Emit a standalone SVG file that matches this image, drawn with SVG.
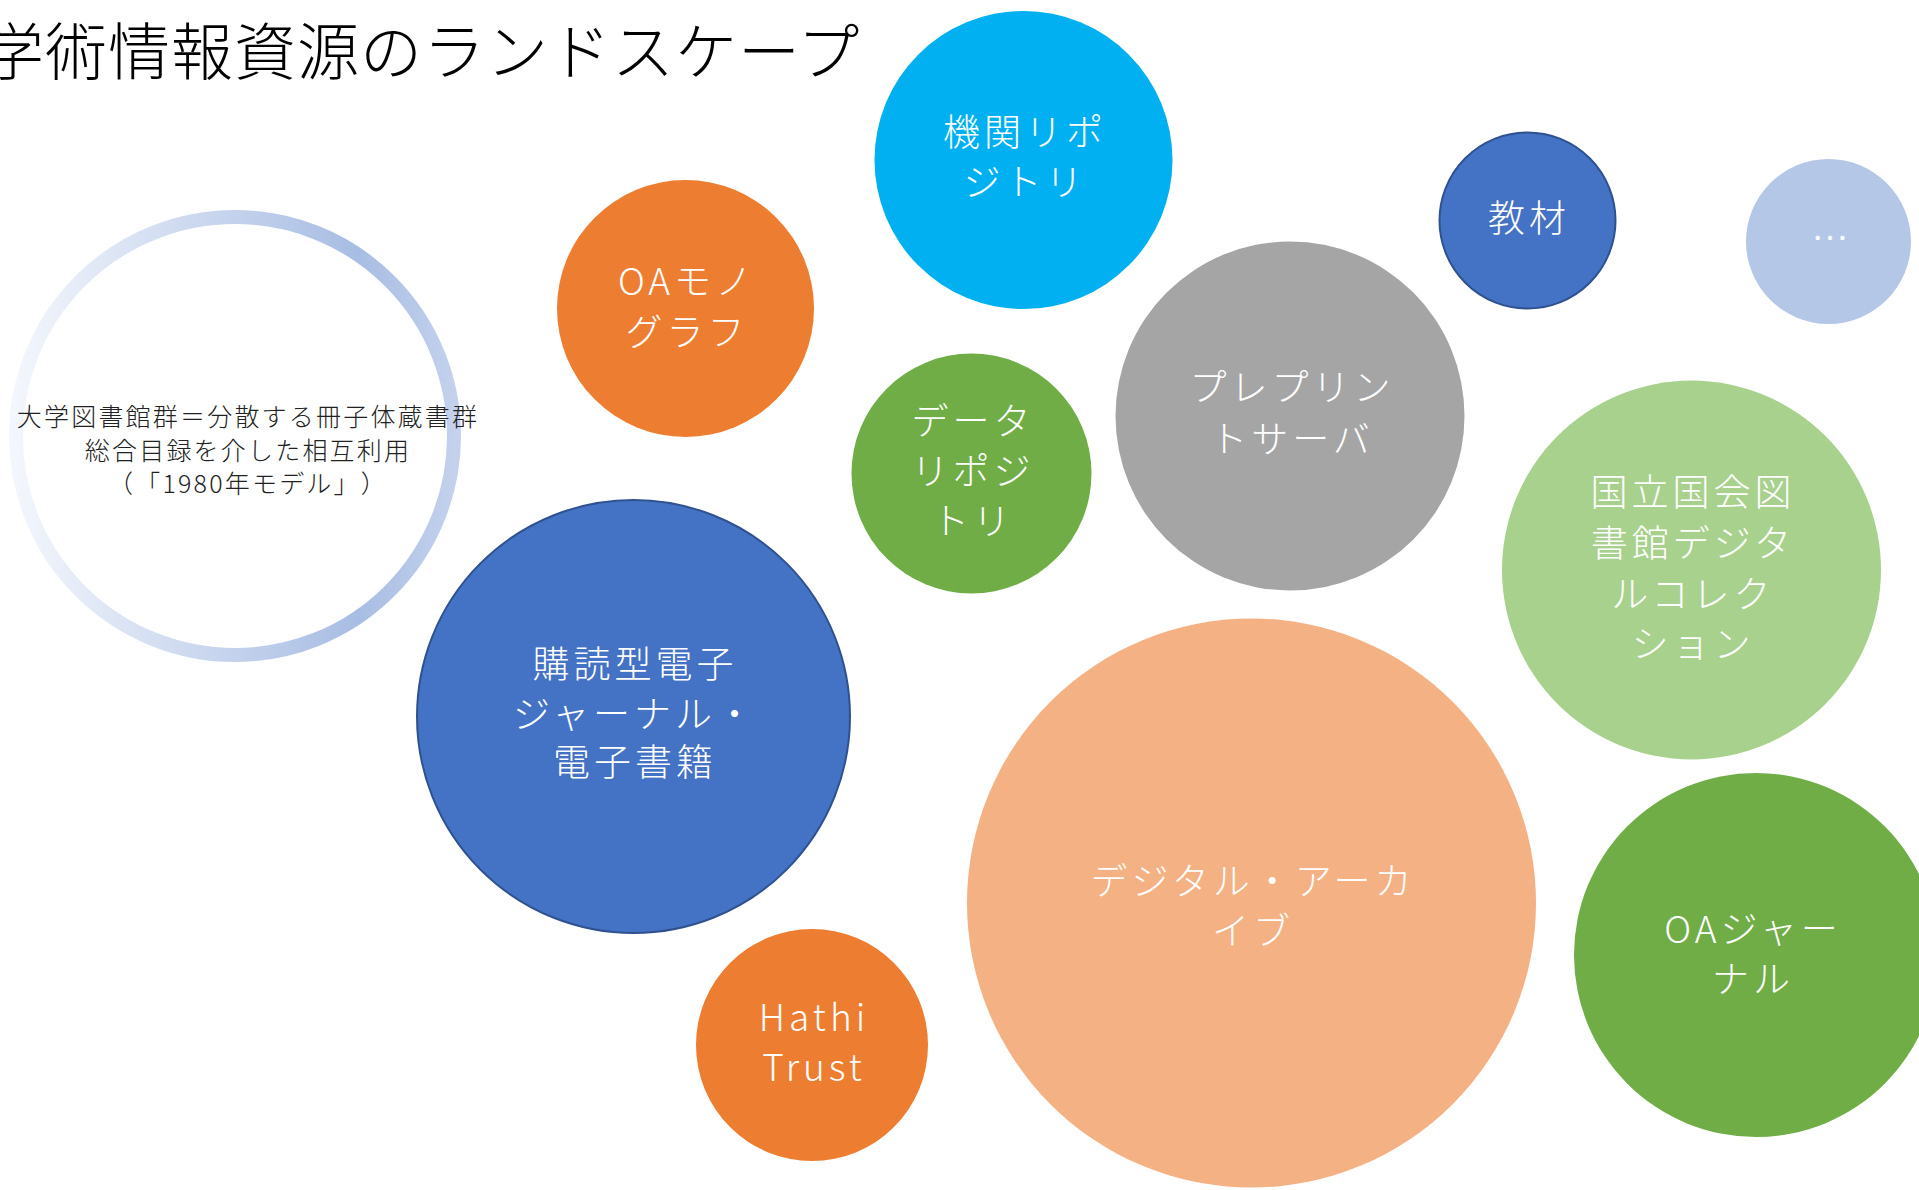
<svg xmlns="http://www.w3.org/2000/svg" width="1919" height="1190" viewBox="0 0 1919 1190">
<style>
  .lbl { font-family: "Noto Sans CJK JP", "Noto Sans", sans-serif; font-weight: 300; font-size: 37px; letter-spacing: 4px; fill: #ffffff; text-anchor: middle; dominant-baseline: central; }
  .dark { font-family: "Noto Sans CJK JP", "Noto Sans", sans-serif; font-weight: 300; font-size: 25px; letter-spacing: 2.2px; fill: #222222; text-anchor: middle; dominant-baseline: central; text-spacing-trim: space-all; }
  .title { font-family: "Noto Sans CJK JP", "Noto Sans", sans-serif; font-weight: 300; font-size: 62px; letter-spacing: 1px; fill: #000000; dominant-baseline: central; }
  .blueStroke { stroke: #2F528F; stroke-width: 2; }
</style>
<defs>
  <linearGradient id="ringGrad" x1="0" y1="0" x2="1" y2="0">
    <stop offset="0" stop-color="#F3F6FC"/>
    <stop offset="0.78" stop-color="#A8BDE3"/>
    <stop offset="1" stop-color="#C3D1EC"/>
  </linearGradient>
</defs>
<rect x="0" y="0" width="1919" height="1190" fill="#ffffff"/>

<text class="title" x="-18" y="48">学術情報資源のランドスケープ</text>

<g id="connectors"></g>

<g id="node-univlib">
  <circle cx="235" cy="436" r="219" fill="none" stroke="url(#ringGrad)" stroke-width="14"/>
  <text class="dark" x="248" y="415">大学図書館群＝分散する冊子体蔵書群</text>
  <text class="dark" x="248" y="449">総合目録を介した相互利用</text>
  <text class="dark" x="248" y="482">（「1980年モデル」）</text>
</g>

<g id="node-oamono">
  <circle cx="685.5" cy="308.5" r="128.5" fill="#ED7D31"/>
  <text class="lbl" x="687" y="279">OAモノ</text>
  <text class="lbl" x="687" y="330">グラフ</text>
</g>

<g id="node-ir">
  <circle cx="1023.5" cy="160" r="149" fill="#00B0F0"/>
  <text class="lbl" x="1025" y="130">機関リポ</text>
  <text class="lbl" x="1025" y="180">ジトリ</text>
</g>

<g id="node-kyozai">
  <circle cx="1527.5" cy="220.5" r="88" fill="#4472C4" class="blueStroke"/>
  <text class="lbl" x="1529" y="216">教材</text>
</g>

<g id="node-etc">
  <circle cx="1828.5" cy="241.5" r="82.5" fill="#B4C7E7"/>
  <text class="lbl" x="1830" y="236" style="letter-spacing:0">…</text>
</g>

<g id="node-datarepo">
  <circle cx="971.5" cy="473.5" r="120" fill="#70AD47"/>
  <text class="lbl" x="973" y="419">データ</text>
  <text class="lbl" x="973" y="469">リポジ</text>
  <text class="lbl" x="973" y="519">トリ</text>
</g>

<g id="node-preprint">
  <circle cx="1290" cy="416" r="174.5" fill="#A5A5A5"/>
  <text class="lbl" x="1292" y="385">プレプリン</text>
  <text class="lbl" x="1292" y="437">トサーバ</text>
</g>

<g id="node-ndl">
  <circle cx="1691.5" cy="570" r="189.5" fill="#A9D18E"/>
  <text class="lbl" x="1693" y="490">国立国会図</text>
  <text class="lbl" x="1693" y="541">書館デジタ</text>
  <text class="lbl" x="1693" y="592">ルコレク</text>
  <text class="lbl" x="1693" y="642">ション</text>
</g>

<g id="node-ej">
  <circle cx="633.5" cy="716.5" r="216.5" fill="#4472C4" class="blueStroke"/>
  <text class="lbl" x="635" y="662">購読型電子</text>
  <text class="lbl" x="635" y="712">ジャーナル・</text>
  <text class="lbl" x="635" y="760">電子書籍</text>
</g>

<g id="node-archive">
  <circle cx="1251.5" cy="903" r="284.5" fill="#F4B183"/>
  <text class="lbl" x="1253" y="879">デジタル・アーカ</text>
  <text class="lbl" x="1253" y="929">イブ</text>
</g>

<g id="node-oaj">
  <circle cx="1756" cy="955" r="182" fill="#70AD47"/>
  <text class="lbl" x="1753" y="927">OAジャー</text>
  <text class="lbl" x="1753" y="977">ナル</text>
</g>

<g id="node-hathi">
  <circle cx="812" cy="1045" r="116" fill="#ED7D31"/>
  <text class="lbl" x="814" y="1015">Hathi</text>
  <text class="lbl" x="814" y="1065">Trust</text>
</g>
</svg>
